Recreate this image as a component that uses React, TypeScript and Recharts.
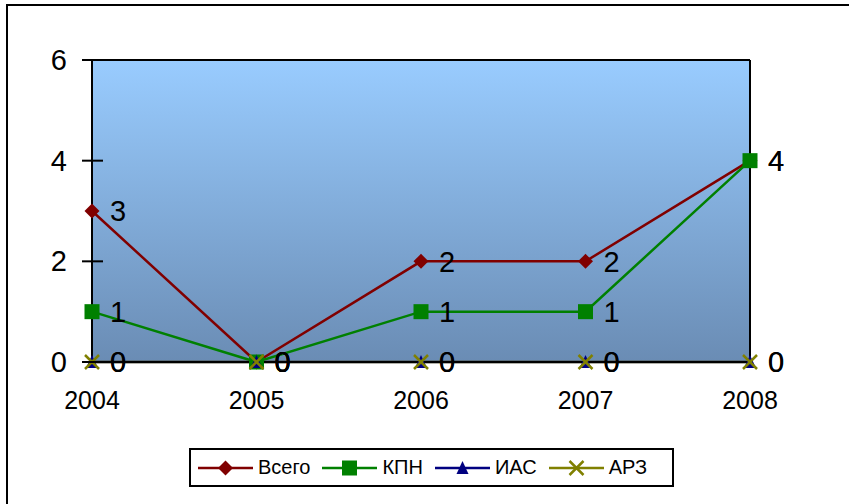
import React from 'react';
import {
  LineChart,
  Line,
  XAxis,
  YAxis,
  CartesianGrid,
  ReferenceLine,
  LabelList
} from 'recharts';

const years = ['2004', '2005', '2006', '2007', '2008'];
const vsego = [3, 0, 2, 2, 4];
const kpn = [1, 0, 1, 1, 4];
const ias = [0, 0, 0, 0, 0];
const arz = [0, 0, 0, 0, 0];
const yTicks = [0, 2, 4, 6];

const data = years.map((year, i) => ({
  year,
  vsego: vsego[i],
  kpn: kpn[i],
  ias: ias[i],
  arz: arz[i]
}));

const FONT = '"Liberation Sans", Arial, sans-serif';

const Diamond = ({ cx, cy, color }: any) => (
  <polygon points={`${cx},${cy - 7.5} ${cx + 7.5},${cy} ${cx},${cy + 7.5} ${cx - 7.5},${cy}`} fill={color} />
);
const Square = ({ cx, cy, color }: any) => (
  <rect x={cx - 7.5} y={cy - 7.5} width={15} height={15} fill={color} />
);
const Triangle = ({ cx, cy, color }: any) => (
  <polygon points={`${cx},${cy - 7} ${cx + 6},${cy + 6} ${cx - 6},${cy + 6}`} fill={color} />
);
const Cross = ({ cx, cy, color }: any) => (
  <g stroke={color} strokeWidth={2.5}>
    <line x1={cx - 7} y1={cy - 7} x2={cx + 7} y2={cy + 7} />
    <line x1={cx - 7} y1={cy + 7} x2={cx + 7} y2={cy - 7} />
  </g>
);

const series = [
  { key: 'vsego', name: 'Всего', color: '#800000', Marker: Diamond },
  { key: 'kpn', name: 'КПН', color: '#008000', Marker: Square },
  { key: 'ias', name: 'ИАС', color: '#000080', Marker: Triangle },
  { key: 'arz', name: 'АРЗ', color: '#808000', Marker: Cross }
];

const YTick = ({ x, y, payload }: any) => (
  <g>
    <line x1={x - 10} y1={y} x2={x + 11} y2={y} stroke="#000" strokeWidth={2} />
    <text x={x - 25} y={y} textAnchor="end" dominantBaseline="central" fontSize={29} fontFamily={FONT} fill="#000">
      {payload.value}
    </text>
  </g>
);

const XTick = ({ x, payload }: any) => (
  <text x={x} y={409} textAnchor="middle" fontSize={25} fontFamily={FONT} fill="#000">
    {payload.value}
  </text>
);

const Legend = () => (
  <div
    style={{
      position: 'absolute',
      left: 189,
      top: 448,
      width: 474,
      height: 35,
      border: '2px solid #000',
      background: '#fff',
      display: 'flex',
      alignItems: 'center',
      paddingLeft: 7,
      boxSizing: 'content-box',
      fontFamily: FONT,
      fontSize: 20
    }}
  >
    {series.map(({ name, color, Marker }) => (
      <div key={name} style={{ display: 'flex', alignItems: 'center', marginRight: 12 }}>
        <svg width={55} height={20}>
          <line x1={0} y1={10} x2={55} y2={10} stroke={color} strokeWidth={2.5} />
          <Marker cx={27.5} cy={10} color={color} />
        </svg>
        <span style={{ marginLeft: 5 }}>{name}</span>
      </div>
    ))}
  </div>
);

export default function App() {
  return (
    <div style={{ position: 'fixed', left: 0, top: 0, width: 849, height: 504, background: '#fff', overflow: 'hidden' }}>
      <div style={{ position: 'absolute', left: 6, top: 4, width: 900, height: 600, borderLeft: '2px solid #000', borderTop: '2px solid #000' }} />
      <LineChart width={849} height={504} data={data} margin={{ top: 60, right: 99, bottom: 102, left: 0 }} style={{ position: 'absolute', left: 0, top: 0 }}>
        <defs>
          <linearGradient id="plotBg" x1="0" y1="0" x2="0" y2="1">
            <stop offset="0%" stopColor="#99CCFF" />
            <stop offset="100%" stopColor="#6A8CB4" />
          </linearGradient>
        </defs>
        <CartesianGrid horizontal={false} vertical={false} fill="url(#plotBg)" />
        <XAxis dataKey="year" height={40} tickLine={false} axisLine={{ stroke: '#000', strokeWidth: 2 }} tick={<XTick />} interval={0} />
        <YAxis width={92} domain={[0, 6]} ticks={yTicks} tickLine={false} tickSize={0} tickMargin={0} axisLine={{ stroke: '#000', strokeWidth: 2 }} tick={<YTick />} />
        <ReferenceLine y={6} stroke="#000" strokeWidth={2} ifOverflow="visible" />
        <ReferenceLine x="2008" stroke="#000" strokeWidth={2} ifOverflow="visible" />
        {series.map(({ key, name, color, Marker }) => (
          <Line
            key={key}
            dataKey={key}
            name={name}
            type="linear"
            stroke={color}
            strokeWidth={2.5}
            dot={(p: any) => <Marker key={`${key}-${p.index}`} cx={p.cx} cy={p.cy} color={color} />}
            activeDot={false}
            isAnimationActive={false}
          >
            <LabelList dataKey={key} position="right" offset={18} fontSize={29} fontFamily={FONT} fill="#000" />
          </Line>
        ))}
      </LineChart>
      <Legend />
    </div>
  );
}
